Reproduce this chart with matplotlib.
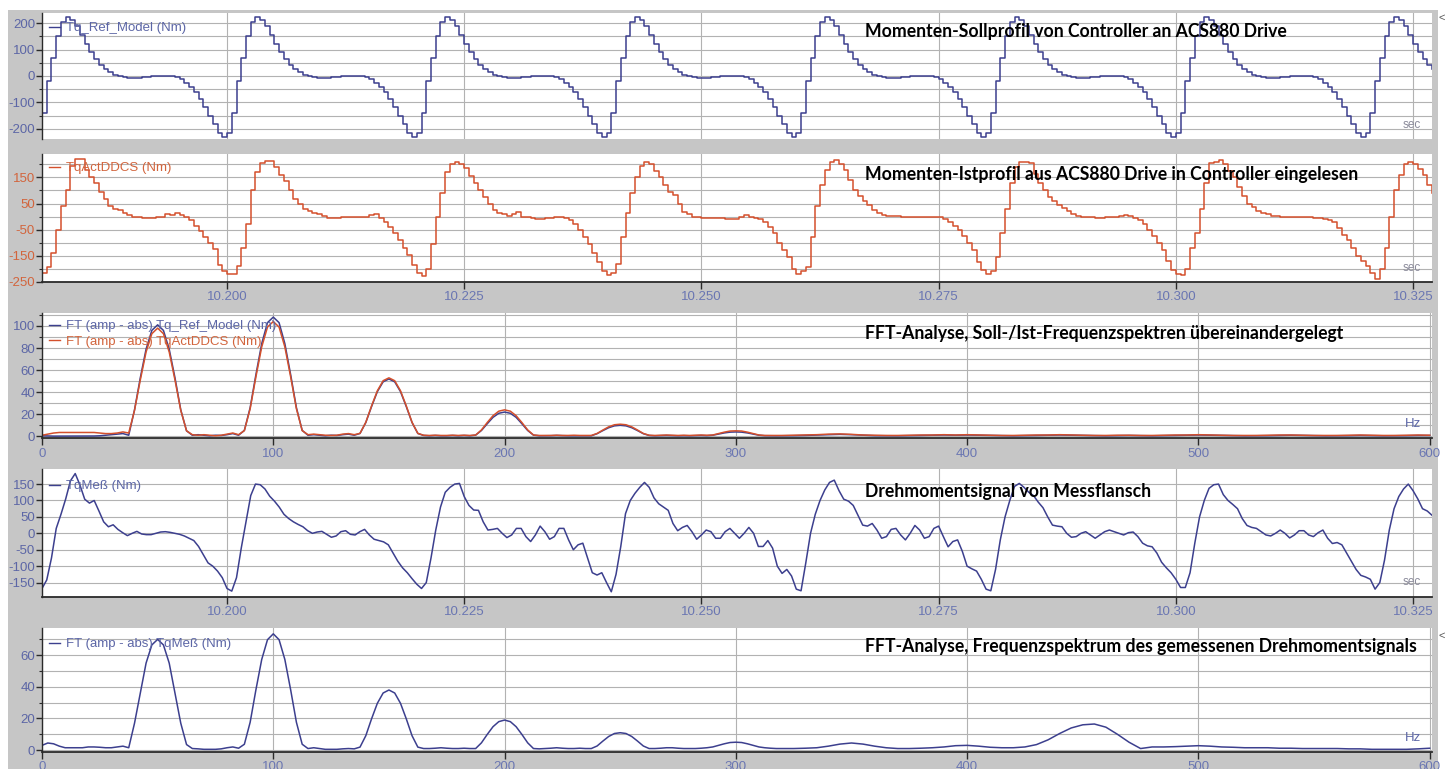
import numpy as np
import matplotlib
matplotlib.use("Agg")
import matplotlib.pyplot as plt
from matplotlib.patches import Rectangle
from matplotlib.ticker import FixedLocator, FuncFormatter
from matplotlib.lines import Line2D

plt.rcParams['font.family'] = ['Liberation Sans', 'DejaVu Sans']
plt.rcParams['axes.unicode_minus'] = False

W, H, DPI = 1448, 769, 100

# ---------------- data ----------------
# time axis: samples every 0.5 ms starting at 10.1805 s
t_start = 10.1805
dt = 0.0005

tq_ref_model = [
    -140, -20, 70, 150, 205, 222, 212, 188, 155, 120, 90, 63, 42, 26, 14, 5, -1, -5, -7, -8,
    -7, -5, -3, -1, 0, 0, 0, 0, -3, -12, -25, -40, -60, -88, -118, -150, -182, -215,
    -230, -215, -140, -20, 70, 150, 205, 222, 212, 188, 155, 120, 90, 63, 42, 26, 14, 5, -1, -5,
    -7, -8, -7, -5, -3, -1, 0, 0, 0, 0, -3, -12, -25, -40, -60, -88, -118, -150, -182, -215,
    -230, -215, -140, -20, 70, 150, 205, 222, 212, 188, 155, 120, 90, 63, 42, 26, 14, 5, -1, -5,
    -7, -8, -7, -5, -3, -1, 0, 0, 0, 0, -3, -12, -25, -40, -60, -88, -118, -150, -182, -215,
    -230, -215, -140, -20, 70, 150, 205, 222, 212, 188, 155, 120, 90, 63, 42, 26, 14, 5, -1, -5,
    -7, -8, -7, -5, -3, -1, 0, 0, 0, 0, -3, -12, -25, -40, -60, -88, -118, -150, -182, -215,
    -230, -215, -140, -20, 70, 150, 205, 222, 212, 188, 155, 120, 90, 63, 42, 26, 14, 5, -1, -5,
    -7, -8, -7, -5, -3, -1, 0, 0, 0, 0, -3, -12, -25, -40, -60, -88, -118, -150, -182, -215,
    -230, -215, -140, -20, 70, 150, 205, 222, 212, 188, 155, 120, 90, 63, 42, 26, 14, 5, -1, -5,
    -7, -8, -7, -5, -3, -1, 0, 0, 0, 0, -3, -12, -25, -40, -60, -88, -118, -150, -182, -215,
    -230, -215, -140, -20, 70, 150, 205, 222, 212, 188, 155, 120, 90, 63, 42, 26, 14, 5, -1, -5,
    -7, -8, -7, -5, -3, -1, 0, 0, 0, 0, -3, -12, -25, -40, -60, -88, -118, -150, -182, -215,
    -230, -215, -140, -20, 70, 150, 205, 222, 212, 188, 155, 120, 90, 63, 42, 26,
]

tq_act_ddcs = [
    -215, -195, -140, -50, 40, 100, 195, 220, 220, 180,
    150, 130, 95, 69, 40, 30, 25, 15, 5, 0,
    -3, -4, -4, -4, -2, -3, 8, 5, 12, 6,
    -2, -15, -35, -55, -80, -100, -125, -185, -210, -219,
    -219, -190, -120, -30, 100, 170, 205, 214, 212, 190,
    160, 138, 100, 69, 50, 30, 20, 12, 8, 2,
    -4, -4, -5, -3, -3, -2, -2, -1, 0, 5,
    9, -5, -20, -40, -65, -91, -120, -149, -185, -215,
    -230, -200, -104, 0, 90, 170, 200, 210, 200, 185,
    155, 130, 100, 75, 50, 24, 15, 8, 1, 10,
    18, 0, -2, -5, -8, -8, -6, -4, -2, 0,
    -5, -13, -30, -53, -80, -105, -140, -175, -210, -226,
    -215, -181, -80, 12, 90, 152, 195, 210, 200, 175,
    150, 120, 95, 82, 50, 18, 8, 0, -3, -4,
    -5, -5, -6, -7, -8, -8, -8, 0, 5, 0,
    -5, -10, -21, -40, -65, -100, -130, -155, -200, -219,
    -210, -194, -80, 40, 120, 178, 210, 216, 200, 178,
    140, 101, 80, 60, 43, 25, 12, 5, 3, 2,
    1, 0, 0, 0, 0, 0, 0, 0, -1, 0,
    -10, -20, -35, -50, -75, -100, -130, -175, -207, -219,
    -210, -155, -65, 30, 130, 191, 210, 208, 204, 165,
    130, 100, 75, 60, 45, 31, 20, 10, 1, 0,
    -2, -3, -4, -4, -3, -2, 0, 3, 5, 4,
    -5, -13, -30, -53, -75, -100, -130, -170, -207, -220,
    -226, -200, -120, -65, 30, 130, 204, 210, 216, 200,
    175, 152, 115, 80, 50, 35, 20, 12, 8, 4,
    2, 0, 0, -1, -2, -2, -3, -3, -4, -4,
    -8, -14, -21, -45, -70, -91, -120, -150, -170, -190,
    -215, -238, -200, -120, 0, 100, 160, 200, 210, 200,
    184, 160, 120, 90,
]

tq_mess = [
    -168, -142, -75, 15, 58, 105, 160, 182, 147, 104,
    92, 100, 68, 35, 20, 26, 12, 2, -7, 0,
    6, -2, -4, -4, 0, 4, 5, 3, 0, -3,
    -8, -15, -22, -40, -65, -90, -100, -115, -135, -168,
    -176, -135, -45, 35, 115, 150, 148, 135, 113, 98,
    80, 58, 45, 35, 27, 20, 8, 0, 4, 6,
    -3, -12, -8, 5, 8, -3, -5, 5, 12, -5,
    -18, -22, -26, -35, -60, -85, -105, -120, -138, -155,
    -168, -150, -75, 10, 80, 125, 140, 150, 152, 112,
    85, 71, 70, 35, 10, 12, 15, 0, -13, -5,
    15, 15, -10, -25, -5, 22, 5, -18, -10, 15,
    15, -20, -50, -35, -30, -75, -120, -127, -120, -150,
    -178, -125, -40, 60, 100, 122, 140, 155, 140, 108,
    90, 80, 70, 30, 8, 18, 24, 5, -18, -5,
    10, 5, -15, -15, 5, 15, 0, -15, 0, 18,
    0, -40, -40, -22, -45, -100, -122, -110, -130, -170,
    -175, -90, 0, 58, 100, 132, 155, 162, 130, 104,
    98, 85, 55, 25, 22, 30, 10, -15, -10, 12,
    15, -5, -20, 0, 24, 10, -15, -10, 15, 22,
    -10, -41, -25, -20, -55, -100, -108, -115, -140, -170,
    -175, -110, -20, 50, 100, 143, 152, 140, 125, 115,
    95, 78, 50, 25, 22, 20, 0, -12, -10, 0,
    5, -5, -15, -5, 5, 10, 5, 0, -5, 2,
    4, -10, -30, -38, -41, -60, -88, -105, -120, -140,
    -165, -165, -120, -30, 50, 100, 137, 148, 150, 118,
    100, 88, 75, 45, 24, 18, 15, 5, -5, -8,
    0, 10, 0, -14, -5, 8, 8, -5, -10, 2,
    10, -15, -31, -28, -35, -60, -85, -110, -128, -133,
    -140, -170, -150, -81, 10, 75, 112, 135, 150, 130,
    105, 75, 68, 55,
]

# frequency axis: 2.5 Hz steps up to 317.5 Hz, 5 Hz steps from 320 to 600 Hz
freq = np.concatenate([np.arange(0, 320, 2.5), np.arange(320, 601, 5)])

ft_ref_model = [
    0.5, 0.3, 0.2, 0.2, 0.2, 0.2, 0.2, 0.2,
    0.3, 0.3, 0.5, 1.0, 1.5, 2.0, 2.5, 1.0,
    24, 53, 79, 96, 101, 96, 79, 53,
    24, 5, 1.0, 1.5, 1.0, 0.5, 1.0, 0.8,
    1.5, 2.5, 1.0, 5.4, 26, 56, 84, 103,
    108, 103, 84, 56, 26, 5.4, 1.0, 1.5,
    1.0, 0.5, 1.0, 0.8, 1.5, 2.0, 1.0, 2.6,
    12.5, 27, 40.5, 49.4, 52, 49.4, 40.5, 27,
    12.5, 2.6, 0.8, 0.5, 0.8, 0.5, 0.5, 0.8,
    0.5, 0.8, 0.5, 1.1, 5.3, 11.4, 17.2, 20.9,
    22, 20.9, 17.2, 11.4, 5.3, 1.1, 0.5, 0.5,
    0.6, 0.8, 0.6, 0.5, 0.5, 0.6, 0.5, 0.5,
    2.4, 5.2, 7.8, 9.5, 10, 9.5, 7.8, 5.2,
    2.4, 0.8, 0.5, 0.6, 0.8, 0.6, 0.5, 0.6,
    0.5, 0.6, 0.8, 0.6, 1.0, 2.1, 3.1, 3.8,
    4.0, 3.8, 3.1, 2.1, 1.0, 0.6, 0.5, 0.5,
    0.5, 0.6, 0.8, 1.2, 1.5, 1.8, 1.5, 1.0,
    0.6, 0.5, 0.5, 0.6, 0.8, 1.0, 1.2, 1.0,
    1.2, 1.0, 0.8, 0.6, 0.5, 0.6, 0.8, 1.0,
    1.2, 1.0, 0.8, 0.6, 0.5, 0.6, 0.8, 0.6,
    0.5, 0.6, 0.8, 1.0, 1.2, 1.0, 0.8, 0.6,
    0.5, 0.5, 0.6, 0.8, 1.0, 0.8, 0.6, 0.5,
    0.5, 0.6, 0.8, 0.6, 0.5, 0.5, 0.6, 0.8,
    0.8,
]

ft_act_ddcs = [
    1.0, 2.0, 3.0, 3.5, 3.5, 3.5, 3.5, 3.5,
    3.5, 3.5, 3.0, 2.5, 2.5, 3.0, 4.0, 3.0,
    23.5, 51, 76.4, 93, 98, 93, 76.4, 51,
    23.5, 5.0, 1.5, 1.0, 1.5, 1.0, 0.5, 1.0,
    2.0, 3.0, 1.5, 5.2, 25, 54, 81, 99,
    104, 99, 81, 54, 25, 5.2, 1.5, 2.0,
    1.5, 1.0, 0.8, 1.0, 2.0, 2.5, 1.5, 2.7,
    12.7, 27.6, 41.3, 50.4, 53, 50.4, 41.3, 27.6,
    12.7, 2.7, 1.0, 0.8, 1.0, 0.8, 0.8, 1.0,
    0.8, 1.0, 0.8, 1.2, 5.8, 12.5, 18.7, 22.8,
    24, 22.8, 18.7, 12.5, 5.8, 1.2, 0.8, 0.8,
    0.8, 1.0, 0.8, 0.8, 1.0, 0.8, 0.8, 0.8,
    2.6, 5.7, 8.6, 10.5, 11, 10.5, 8.6, 5.7,
    2.6, 1.0, 0.8, 1.0, 1.2, 1.0, 0.8, 1.0,
    0.8, 1.0, 1.2, 1.0, 1.2, 2.5, 3.8, 4.8,
    5.0, 4.8, 3.8, 2.5, 1.2, 0.8, 0.8, 0.8,
    0.8, 1.0, 1.2, 1.5, 2.0, 2.2, 1.8, 1.2,
    1.0, 0.8, 0.8, 1.0, 1.2, 1.2, 1.5, 1.2,
    1.5, 1.2, 1.0, 0.8, 0.8, 1.0, 1.2, 1.2,
    1.5, 1.2, 1.0, 0.8, 0.8, 1.0, 1.0, 0.8,
    0.8, 1.0, 1.2, 1.2, 1.5, 1.2, 1.0, 0.8,
    0.8, 0.8, 1.0, 1.2, 1.2, 1.0, 0.8, 0.8,
    0.8, 1.0, 1.2, 1.0, 0.8, 0.8, 1.0, 1.2,
    1.0,
]

ft_mess = [
    3.0, 4.5, 4.0, 2.5, 1.5, 1.5, 1.5, 1.5,
    2.0, 2.0, 1.8, 1.5, 1.5, 2.0, 2.5, 1.5,
    17, 36, 55, 66.5, 70, 66.5, 55, 36,
    17, 3.5, 1.0, 0.8, 0.5, 0.5, 0.5, 0.8,
    1.5, 2.0, 1.2, 3.7, 17.6, 38.2, 57.3, 69.8,
    73.5, 69.8, 57.3, 38.2, 17.6, 3.7, 1.0, 1.5,
    1.0, 0.5, 0.5, 0.5, 0.8, 1.0, 0.8, 1.9,
    9.1, 19.8, 29.6, 36.1, 38, 36.1, 29.6, 19.8,
    9.1, 1.9, 1.0, 1.0, 1.2, 1.5, 1.2, 1.0,
    1.0, 1.2, 1.0, 1.0, 4.6, 9.9, 14.8, 18,
    19, 18, 14.8, 9.9, 4.6, 1.0, 0.8, 1.0,
    1.2, 1.5, 1.2, 1.0, 1.0, 1.2, 1.0, 1.0,
    2.6, 5.7, 8.6, 10.5, 11, 10.5, 8.6, 5.7,
    2.6, 1.0, 1.0, 1.2, 1.5, 1.5, 1.2, 1.0,
    1.0, 1.0, 1.2, 1.5, 2.0, 3.0, 4.0, 4.8,
    5.0, 4.8, 4.0, 3.0, 2.0, 1.5, 1.2, 1.0,
    1.0, 1.0, 1.2, 1.5, 2.5, 3.8, 4.5, 3.8,
    2.5, 1.5, 1.0, 1.0, 1.2, 1.5, 2.0, 2.8,
    3.0, 2.5, 1.8, 1.5, 1.5, 2.0, 3.5, 6.5,
    10.5, 14, 16, 16.5, 14.5, 10, 5, 1.0,
    2.0, 2.0, 2.2, 2.5, 2.8, 2.5, 2.0, 1.8,
    1.5, 1.5, 1.5, 1.2, 1.2, 1.0, 1.0, 1.0,
    1.0, 0.8, 0.8, 0.5, 0.5, 0.5, 0.5, 0.8,
    1.2,
]

time_ticks = [10.200, 10.225, 10.250, 10.275, 10.300, 10.325]
freq_ticks = [0, 100, 200, 300, 400, 500, 600]

titles = [
    "Momenten-Sollprofil von Controller an ACS880 Drive",
    "Momenten-Istprofil aus ACS880 Drive in Controller eingelesen",
    "FFT-Analyse, Soll-/Ist-Frequenzspektren übereinandergelegt",
    "Drehmomentsignal von Messflansch",
    "FFT-Analyse, Frequenzspektrum des gemessenen Drehmomentsignals",
]

# ---------------- styling ----------------
BLUE = '#3c3f8e'
RED = '#d4502c'
BLUE_TXT = '#5c66a6'
RED_TXT = '#d2643c'
XTXT = '#6a76b2'
GRID = '#b2b2b2'
BG = '#c6c6c6'

time = t_start + dt * np.arange(len(tq_ref_model))

fig = plt.figure(figsize=(W / DPI, H / DPI), dpi=DPI, facecolor='white')
fig.patches.append(Rectangle((8 / W, 0), (1438 - 8) / W, (H - 10) / H,
                             transform=fig.transFigure, facecolor=BG,
                             edgecolor='none', zorder=-10))

X0, X1 = 42, 1432


def make_ax(top, bottom):
    return fig.add_axes([X0 / W, 1 - bottom / H, (X1 - X0) / W, (bottom - top) / H])


def style(ax, ylim, ymaj, ymin, ycolor, xlim, xticks, xfmt, xlabels=True):
    ax.set_facecolor('white')
    ax.set_xlim(*xlim)
    ax.set_ylim(*ylim)
    ax.spines['top'].set_visible(False)
    ax.spines['right'].set_visible(False)
    ax.spines['left'].set_color('#2a2a2a')
    ax.spines['left'].set_linewidth(1.0)
    if xlabels:
        ax.spines['bottom'].set_color('#2a2a2a')
        ax.spines['bottom'].set_linewidth(1.3)
    else:
        ax.spines['bottom'].set_visible(False)
    ax.yaxis.set_major_locator(FixedLocator(ymaj))
    ax.yaxis.set_minor_locator(FixedLocator(ymin))
    ax.xaxis.set_major_locator(FixedLocator(xticks))
    ax.xaxis.set_major_formatter(FuncFormatter(xfmt))
    ax.yaxis.set_major_formatter(FuncFormatter(lambda v, p: f"{v:g}"))
    ax.grid(True, which='both', axis='y', color=GRID, lw=0.8)
    ax.grid(True, which='major', axis='x', color=GRID, lw=0.8)
    ax.set_axisbelow(True)
    ax.tick_params(axis='y', which='major', direction='out', length=4, width=1,
                   color='#2a2a2a', labelcolor=ycolor, labelsize=9.5, pad=1)
    ax.tick_params(axis='y', which='minor', direction='out', length=2.5, width=0.8,
                   color='#2a2a2a')
    if xlabels:
        ax.tick_params(axis='x', direction='out', length=5, width=1, color='#2a2a2a',
                       labelcolor=XTXT, labelsize=9.5, pad=2)
    else:
        ax.tick_params(axis='x', length=0, labelbottom=False)


tfmt = lambda v, p: f"{v:.3f}"
ffmt = lambda v, p: f"{v:g}"
txlim = (t_start, 10.327)
fxlim = (0, 601)

# panel 1
ax1 = make_ax(13, 139)
ax1.plot(time, tq_ref_model, color=BLUE, lw=1.1, drawstyle='steps-post')
style(ax1, (-239, 239), [-200, -100, 0, 100, 200], np.arange(-200, 201, 50),
      BLUE_TXT, txlim, time_ticks, tfmt, xlabels=False)

# panel 2
ax2 = make_ax(154, 281.7)
ax2.plot(time, tq_act_ddcs, color=RED, lw=1.1, drawstyle='steps-post')
style(ax2, (-250, 240), [-250, -150, -50, 50, 150], np.arange(-200, 201, 50),
      RED_TXT, txlim, time_ticks, tfmt)

# panel 3
ax3 = make_ax(312.7, 438)
ax3.plot(freq, ft_ref_model, color=BLUE, lw=1.1)
ax3.plot(freq, ft_act_ddcs, color=RED, lw=1.1)
style(ax3, (-1.5, 112), [0, 20, 40, 60, 80, 100], np.arange(0, 111, 10),
      BLUE_TXT, fxlim, freq_ticks, ffmt)

# panel 4
ax4 = make_ax(469.3, 596.7)
ax4.plot(time, tq_mess, color=BLUE, lw=1.1)
style(ax4, (-193, 195), [-150, -100, -50, 0, 50, 100, 150], np.arange(-150, 151, 50),
      BLUE_TXT, txlim, time_ticks, tfmt)

# panel 5
ax5 = make_ax(628.3, 751.7)
ax5.plot(freq, ft_mess, color=BLUE, lw=1.1)
style(ax5, (-1, 77), [0, 20, 40, 60], np.arange(0, 71, 10),
      BLUE_TXT, fxlim, freq_ticks, ffmt)


def legend(ax, labels, colors, top_px, top_axes_px, hgt):
    handles = [Line2D([], [], color=c, lw=1.0) for c in colors]
    ax.legend(handles, labels, loc='upper left', frameon=False, fontsize=9.5,
              handlelength=0.8, handletextpad=0.5, labelspacing=0.25,
              borderaxespad=0, borderpad=0,
              bbox_to_anchor=(7 / (X1 - X0), 1 - (top_px - top_axes_px) / hgt),
              labelcolor=[BLUE_TXT if c == BLUE else RED_TXT for c in colors])


legend(ax1, ["Tq_Ref_Model (Nm)"], [BLUE], 22, 13, 126)
legend(ax2, ["TqActDDCS (Nm)"], [RED], 162, 154, 127.7)
legend(ax3, ["FT (amp - abs) Tq_Ref_Model (Nm)", "FT (amp - abs) TqActDDCS (Nm)"],
       [BLUE, RED], 320, 312.7, 125.3)
legend(ax4, ["TqMeß (Nm)"], [BLUE], 480, 469.3, 127.4)
legend(ax5, ["FT (amp - abs) TqMeß (Nm)"], [BLUE], 638, 628.3, 123.4)

# unit labels
for (x, y) in [(1412, 125), (1412, 268), (1412, 582)]:
    fig.text(x / W, 1 - y / H, "sec", color='#8a8a9a', fontsize=8.5,
             ha='center', va='center')
for (x, y) in [(1413, 424), (1413, 738)]:
    fig.text(x / W, 1 - y / H, "Hz", color=BLUE_TXT, fontsize=9.5,
             ha='center', va='center')
for y in [18, 636]:
    fig.text(1442 / W, 1 - y / H, "<", color='#555555', fontsize=8,
             ha='center', va='center')

# titles, sized to the reference text widths
title_px = [(865, 30, 1287), (865, 173, 1364), (865, 332, 1349),
            (865, 490, 1137), (865, 645, 1417)]
fig.canvas.draw()
renderer = fig.canvas.get_renderer()
tobjs, ratios = [], []
for txt, (x0, yc, x1) in zip(titles, title_px):
    t = fig.text(x0 / W, 1 - yc / H, txt, fontsize=10, fontweight='bold',
                 family=['Lato', 'DejaVu Sans'], color='black', ha='left',
                 va='center_baseline')
    bb = t.get_window_extent(renderer=renderer)
    ratios.append((x1 - x0) / bb.width)
    tobjs.append(t)
fs = 10 * float(np.median(ratios))
for t in tobjs:
    t.set_fontsize(fs)

fig.savefig('out.png', dpi=DPI, facecolor='white')
